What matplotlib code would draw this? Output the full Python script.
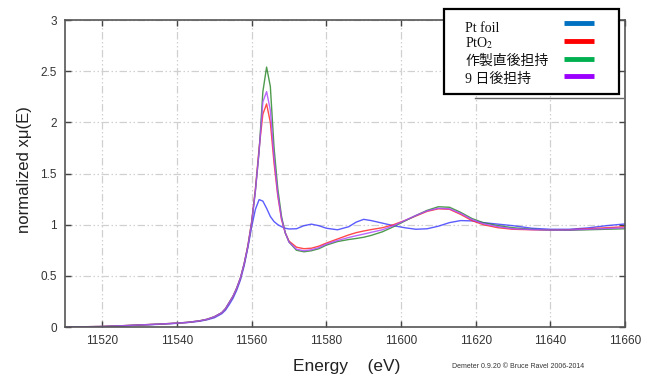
import matplotlib
matplotlib.use("Agg")
import matplotlib.pyplot as plt
from matplotlib.patches import Rectangle
from matplotlib.lines import Line2D

# energy grid (eV) and normalized mu(E)
energy = [11510, 11520, 11525, 11530, 11535, 11540, 11543, 11546, 11548, 11550,
          11552, 11553, 11554, 11555, 11556, 11557, 11558, 11559, 11560, 11561,
          11562, 11563, 11564, 11565, 11566, 11567, 11568, 11569, 11570, 11572,
          11574, 11576, 11578, 11580, 11583, 11586, 11588, 11590, 11592, 11595,
          11598, 11601, 11604, 11607, 11610, 11613, 11616, 11619, 11622, 11626,
          11630, 11635, 11640, 11645, 11650, 11655, 11660]

pt_foil = [0.0, 0.004, 0.01, 0.018, 0.026, 0.036, 0.044, 0.056, 0.07, 0.09,
           0.13, 0.165, 0.22, 0.28, 0.36, 0.46, 0.6, 0.78, 0.98, 1.15,
           1.245, 1.23, 1.16, 1.08, 1.03, 1.0, 0.98, 0.965, 0.958, 0.96,
           0.99, 1.005, 0.99, 0.965, 0.95, 0.98, 1.025, 1.052, 1.04, 1.015,
           0.99, 0.97, 0.955, 0.96, 0.985, 1.02, 1.04, 1.037, 1.02, 1.005,
           0.99, 0.965, 0.955, 0.955, 0.968, 0.99, 1.007]

pto2 = [0.0, 0.005, 0.012, 0.02, 0.028, 0.038, 0.046, 0.06, 0.075, 0.1,
        0.14, 0.18, 0.24, 0.3, 0.38, 0.48, 0.62, 0.8, 1.03, 1.35,
        1.75, 2.08, 2.18, 2.0, 1.6, 1.28, 1.05, 0.92, 0.84, 0.78,
        0.765, 0.77, 0.79, 0.82, 0.86, 0.9, 0.922, 0.938, 0.952, 0.97,
        1.0, 1.04, 1.085, 1.13, 1.155, 1.15, 1.1, 1.04, 1.0, 0.97,
        0.955, 0.95, 0.948, 0.95, 0.96, 0.97, 0.98]

fresh = [0.0, 0.005, 0.012, 0.02, 0.028, 0.038, 0.046, 0.06, 0.075, 0.1,
         0.14, 0.18, 0.24, 0.3, 0.38, 0.48, 0.62, 0.79, 1.02, 1.33,
         1.72, 2.3, 2.54, 2.35, 1.75, 1.35, 1.08, 0.92, 0.83, 0.75,
         0.735, 0.745, 0.765, 0.8, 0.835, 0.855, 0.865, 0.877, 0.895, 0.93,
         0.98, 1.035, 1.09, 1.14, 1.175, 1.17, 1.12, 1.06, 1.02, 0.99,
         0.97, 0.955, 0.948, 0.945, 0.95, 0.955, 0.96]

day9 = [0.0, 0.005, 0.012, 0.02, 0.028, 0.038, 0.046, 0.06, 0.075, 0.1,
        0.14, 0.18, 0.24, 0.3, 0.38, 0.48, 0.62, 0.79, 1.02, 1.33,
        1.72, 2.2, 2.3, 2.12, 1.65, 1.3, 1.06, 0.92, 0.83, 0.76,
        0.745, 0.755, 0.775, 0.81, 0.845, 0.875, 0.892, 0.908, 0.925, 0.95,
        0.99, 1.04, 1.09, 1.135, 1.16, 1.155, 1.11, 1.05, 1.01, 0.98,
        0.96, 0.952, 0.948, 0.948, 0.955, 0.962, 0.97]

labels = ["Pt foil", "PtO$_2$", "作製直後担持", "9 日後担持"]
legend_colors = ["#0070C0", "#FF0000", "#00B050", "#9B00FF"]
plot_colors = ["#3f3fff", "#ff2a2a", "#2f8a2f", "#b04cff"]

plt.rcParams['mathtext.fontset'] = 'stix'

fig = plt.figure(figsize=(6.53, 3.74), dpi=100)
ax = fig.add_axes([65 / 653, 1 - 327 / 374, 560 / 653, 307 / 374])

for y, c in zip([pt_foil, pto2, fresh, day9], plot_colors):
    ax.plot(energy, y, color=c, lw=1.0, alpha=0.85)

ax.set_xlim(11510, 11660)
ax.set_ylim(0, 3)
ax.set_xticks(range(11520, 11661, 20))
ax.set_yticks([0, 0.5, 1, 1.5, 2, 2.5, 3])
ax.set_yticklabels(["0", "0.5", "1", "1.5", "2", "2.5", "3"])
ax.grid(True, color="#d0d0d0", lw=0.9, linestyle=(0, (6, 2, 1.2, 2, 1.2, 2)))
ax.tick_params(direction="in", top=True, right=True, length=4, width=1,
               color="#444444", labelsize=8.5, labelcolor="#333333", pad=6)
for s in ax.spines.values():
    s.set_color("#555555")
    s.set_linewidth(1.2)
for lab in ax.get_xticklabels() + ax.get_yticklabels():
    lab.set_family("Liberation Sans")

fig.text(25 / 653, 1 - 170 / 374, "normalized xμ(E)", rotation=90,
         ha="center", va="center", fontsize=12, family="Liberation Sans",
         color="#222222")
fig.text(347 / 653, 1 - 367 / 374, "Energy    (eV)", ha="center", va="center",
         fontsize=12.5, family="Liberation Sans", color="#222222")
fig.text(452 / 653, 1 - 366 / 374, "Demeter 0.9.20 © Bruce Ravel 2006-2014",
         ha="left", va="center", fontsize=5, family="Liberation Sans",
         color="#333333")

# remnant of the original legend box behind the pasted one
fig.add_artist(Line2D([475 / 653, 623 / 653], [1 - 97.5 / 374, 1 - 97.5 / 374],
                      color="#666666", lw=1.0))

# pasted legend box
box = Rectangle((444 / 653, 1 - 94 / 374), 175 / 653, 85 / 374,
                transform=fig.transFigure, facecolor="white",
                edgecolor="black", lw=1.6, zorder=10)
fig.add_artist(box)

text_y = [28, 43, 61.5, 79]
swatch_y = [23, 41, 59, 76]
for lab, c, ty, sy in zip(labels, legend_colors, text_y, swatch_y):
    fig.text(465 / 653, 1 - ty / 374, lab, ha="left", va="center",
             fontsize=10, family=["Liberation Serif", "Noto Sans CJK JP"],
             color="#111111", zorder=11)
    fig.add_artist(Line2D([564 / 653, 594 / 653], [1 - sy / 374, 1 - sy / 374],
                          color=c, lw=3.5, solid_capstyle="butt", zorder=11))

fig.savefig("out.png", dpi=100)
